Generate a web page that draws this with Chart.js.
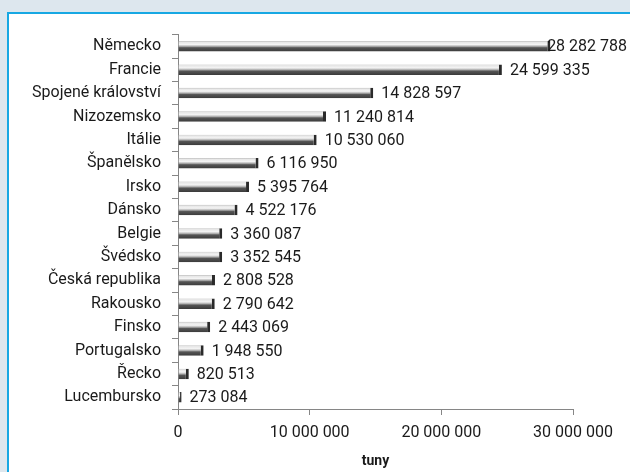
<!DOCTYPE html>
<html>
<head>
<meta charset="utf-8">
<script src="https://cdn.jsdelivr.net/npm/chart.js@4/dist/chart.umd.min.js"></script>
<style>
  html, body { margin: 0; padding: 0; }
  body { width: 630px; height: 472px; background: #dde7ee; position: relative; overflow: hidden; }
  #frame { position: absolute; left: 7px; top: 12px; right: 0; bottom: 0; background: #fff;
           border-left: 2px solid #17a8e3; border-top: 2px solid #17a8e3; }
  #wrap { position: absolute; left: 1px; top: 0; width: 620px; height: 458px; }
</style>
</head>
<body>
<div id="frame"><div id="wrap"><canvas id="exportChart"></canvas></div></div>
<script>
  // země a množství (tuny)
  const countries = ['Německo', 'Francie', 'Spojené království', 'Nizozemsko', 'Itálie', 'Španělsko',
    'Irsko', 'Dánsko', 'Belgie', 'Švédsko', 'Česká republika', 'Rakousko', 'Finsko',
    'Portugalsko', 'Řecko', 'Lucembursko'];
  const tonnes = [28282788, 24599335, 14828597, 11240814, 10530060, 6116950,
    5395764, 4522176, 3360087, 3352545, 2808528, 2790642, 2443069,
    1948550, 820513, 273084];
  const axisTicks = [0, 10000000, 20000000, 30000000];

  const fontFamily = 'Roboto, "Liberation Sans", sans-serif';

  function formatCz(v) {
    return String(v).replace(/\B(?=(\d{3})+(?!\d))/g, ' ');
  }

  // šedý "válcový" přechod pro každý pruh
  function barGradient(c) {
    const chart = c.chart;
    const y = chart.scales && chart.scales.y;
    if (!y || c.type !== 'data') return '#999';
    const cy = y.getPixelForValue(c.dataIndex);
    if (!Number.isFinite(cy)) return '#999';
    const h = 6;
    const g = chart.ctx.createLinearGradient(0, cy - h, 0, cy + h);
    g.addColorStop(0, '#9a9a9a');
    g.addColorStop(0.15, '#e6e6e6');
    g.addColorStop(0.35, '#f4f4f4');
    g.addColorStop(0.5, '#b0b0b0');
    g.addColorStop(0.62, '#555555');
    g.addColorStop(1, '#353535');
    return g;
  }

  // popisky hodnot za koncem pruhu
  const valueLabels = {
    id: 'valueLabels',
    afterDatasetsDraw(chart) {
      const ctx = chart.ctx;
      const meta = chart.getDatasetMeta(0);
      ctx.save();
      ctx.font = '16px ' + fontFamily;
      ctx.fillStyle = '#1a1a1a';
      ctx.textBaseline = 'middle';
      ctx.textAlign = 'left';
      meta.data.forEach((bar, i) => {
        const txt = formatCz(tonnes[i]);
        const w = ctx.measureText(txt).width;
        let x = bar.x + 8;
        if (x + w > chart.width - 3) x = chart.width - 3 - w;
        ctx.fillText(txt, x, bar.y + 1);
      });
      ctx.restore();
    }
  };

  new Chart(document.getElementById('exportChart'), {
    type: 'bar',
    data: {
      labels: countries,
      datasets: [{
        data: tonnes,
        backgroundColor: barGradient,
        borderColor: '#2a2a2a',
        borderWidth: { top: 0, right: 3, bottom: 0, left: 0 },
        borderSkipped: false,
        categoryPercentage: 0.9,
        barPercentage: 0.5
      }]
    },
    options: {
      indexAxis: 'y',
      responsive: true,
      maintainAspectRatio: false,
      animation: false,
      layout: { padding: { top: 9, right: 57, bottom: 0, left: 0 } },
      plugins: {
        legend: { display: false },
        tooltip: { enabled: false }
      },
      scales: {
        y: {
          afterFit(scale) { scale.width = 168; },
          grid: { drawOnChartArea: false, tickLength: 6, color: '#868686' },
          border: { color: '#868686' },
          ticks: { color: '#1a1a1a', padding: 11, font: { family: fontFamily, size: 16 } }
        },
        x: {
          min: 0,
          max: 30000000,
          afterBuildTicks(scale) { scale.ticks = axisTicks.map(v => ({ value: v })); },
          afterFit(scale) { scale.height = 63; },
          grid: { drawOnChartArea: false, tickLength: 6, color: '#868686' },
          border: { color: '#868686' },
          ticks: {
            color: '#1a1a1a', padding: 8, maxRotation: 0,
            font: { family: fontFamily, size: 16 },
            callback: v => formatCz(v)
          },
          title: {
            display: true, text: 'tuny', color: '#1a1a1a',
            padding: { top: 0, bottom: 2 },
            font: { family: fontFamily, size: 14, weight: 'bold' }
          }
        }
      }
    },
    plugins: [valueLabels]
  });
</script>
</body>
</html>
